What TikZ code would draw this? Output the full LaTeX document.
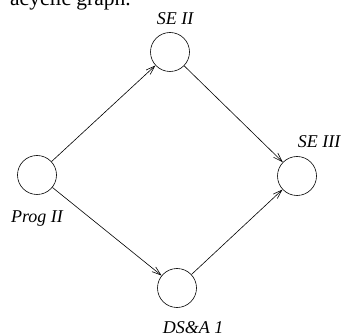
\documentclass[tikz,border=0pt]{standalone}
\usepackage{fontspec}
\setmainfont{Liberation Serif}
\usetikzlibrary{arrows.meta}
\begin{document}
\begin{tikzpicture}[x=1pt,y=-1pt,
  vertex/.style={circle,draw,line width=0.6pt,minimum size=39pt,inner sep=0pt},
  vlabel/.style={anchor=base,inner sep=0pt,font=\fontsize{18}{20}\selectfont\itshape},
  dep/.style={line width=0.6pt,-{Straight Barb[length=9pt,width=6pt]}}]
  \useasboundingbox (0,0) rectangle (342,336);
  % tail of the sentence above the graph
  \node[anchor=base west,inner sep=0pt,font=\fontsize{21.5}{23}\selectfont] (caption) at (10,6) {acyclic graph.};
  % course vertices
  \node[vertex] (prog2) at (37,175) {};
  \node[vertex] (se2)   at (170,52) {};
  \node[vertex] (dsa1)  at (177,288) {};
  \node[vertex] (se3)   at (297,176) {};
  % vertex labels
  \node[vlabel] (lprog2) at (37,223)  {Prog II};
  \node[vlabel] (lse2)   at (175,25)  {SE II};
  \node[vlabel] (ldsa1)  at (193,333) {DS\&A 1};
  \node[vlabel] (lse3)   at (319,148) {SE III};
  % prerequisite edges
  \draw[dep] (prog2) -- (se2);
  \draw[dep] (prog2) -- (dsa1);
  \draw[dep] (se2) -- (se3);
  \draw[dep] (dsa1) -- (se3);
\end{tikzpicture}
\end{document}
